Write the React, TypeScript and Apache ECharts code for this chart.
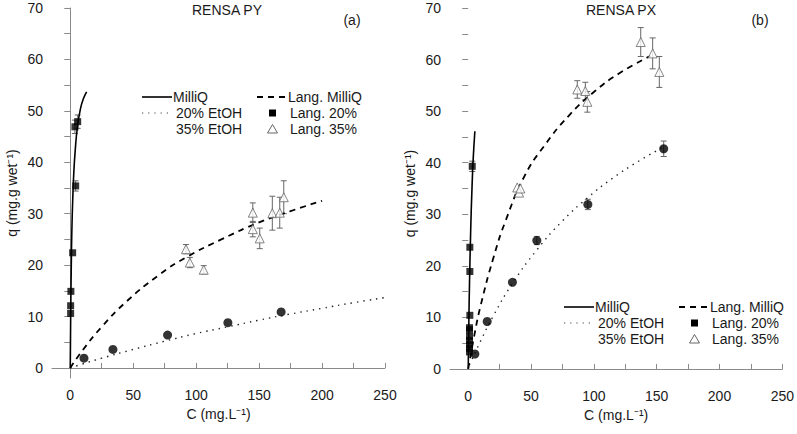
import React, { useEffect, useRef } from "react";
import * as echarts from "echarts";

// ---------- Panel (a) RENSA PY ----------
const aMilliQData: number[][] = [[0.3, 10.6, 0], [0.3, 12.1, 0], [0.5, 14.9, 0], [1.9, 22.4, 0], [4.3, 35.4, 1.0], [3.7, 46.9, 1.3], [5.9, 47.9, 1.3]];
const aEtoh20Data: number[][] = [[10.9, 1.9, 0], [33.9, 3.6, 0], [77.3, 6.4, 0], [125.2, 8.8, 0], [167.5, 10.9, 0]];
const aEtoh35Data: number[][] = [[91.9, 23.1, 0.9], [95, 20.5, 1.0], [106, 19.1, 0.8], [145, 30.2, 1.9], [145, 27.0, 1.5], [150.5, 25.2, 2.0], [160.5, 30.1, 3.3], [166.4, 30.2, 3.0], [169.6, 33.2, 3.2]];
const aMilliQFit: number[][] = [[0, 0], [0.25, 7.5], [0.5, 13.7], [0.8, 19.6], [1.2, 25.9], [2, 33], [2.9, 38.4], [4, 42.5], [5.6, 46.7], [8, 50.3], [10.5, 52.4], [13, 53.7]];
const aEtoh20Fit: number[][] = [[0, 0], [10, 0.8], [25, 1.9], [50, 3.6], [75, 5.2], [100, 6.7], [125, 8.0], [150, 9.3], [175, 10.5], [200, 11.6], [225, 12.7], [250, 13.7]];
const aEtoh35Fit: number[][] = [[0, 0], [10, 3.5], [25, 8.0], [45, 13.0], [70, 18.0], [92, 21.5], [120, 25.0], [150, 28.3], [175, 30.5], [200, 32.5]];

// ---------- Panel (b) RENSA PX ----------
const bMilliQData: number[][] = [[1, 3.3, 0], [1, 4.0, 0], [1, 4.7, 0], [1, 5.5, 0], [1, 6.3, 0], [1, 7.6, 0], [1, 8.0, 0], [1.3, 10.4, 0], [1.3, 18.9, 0], [1.3, 23.6, 0], [3.2, 39.3, 1.0]];
const bEtoh20Data: number[][] = [[5.3, 2.9, 0], [15.1, 9.2, 0], [35.2, 16.8, 0], [54.6, 24.9, 0.8], [95.2, 31.9, 1.0], [155.6, 42.7, 1.5]];
const bEtoh35Data: number[][] = [[39, 35.2, 0], [40.5, 34.2, 0], [41.5, 35.0, 0], [86.8, 54.2, 1.7], [93.2, 53.9, 1.7], [94.8, 51.8, 2.0], [137.3, 63.4, 2.8], [146.8, 61.2, 3.0], [152.1, 57.6, 3.0]];
const bMilliQFit: number[][] = [[0, 0], [0.5, 9.1], [1, 16.3], [2, 27.2], [3, 35.0], [4, 40.9], [5.3, 46.1]];
const bEtoh20Fit: number[][] = [[1, 0.8], [10, 5.5], [20, 10.3], [35, 16.5], [55, 23.2], [75, 28.7], [95, 33.2], [115, 37.0], [135, 40.2], [155, 43.0]];
const bEtoh35Fit: number[][] = [[0, 0], [5, 6.7], [10, 12.4], [20, 21.5], [30, 28.9], [45, 37.5], [60, 43.1], [80, 49.1], [100, 53.7], [120, 57.3], [145, 60.7]];

const xLabels = [0, 50, 100, 150, 200, 250];
const xTicks = [0, 25, 50, 75, 100, 125, 150, 175, 200, 225, 250];
const yLabels = [0, 10, 20, 30, 40, 50, 60, 70];
const yTicks = [0, 5, 10, 15, 20, 25, 30, 35, 40, 45, 50, 55, 60, 65, 70];
const titles = ["RENSA PY", "RENSA PX"];
const panelTags = ["(a)", "(b)"];
const legendCol1 = ["MilliQ", "20% EtOH", "35% EtOH"];
const legendCol2 = ["Lang. MilliQ", "Lang. 20%", "Lang. 35%"];

const FONT = "Liberation Sans, Arial, sans-serif";
const FS = 14;
const AXIS_COLOR = "#8a8a8a";
const TEXT_COLOR = "#1a1a1a";

function errorBarSeries(data: number[][], idx: number, color: string) {
  return {
    type: "custom",
    xAxisIndex: idx,
    yAxisIndex: idx,
    data: data.filter((d) => d[2] > 0),
    encode: { x: 0, y: 1 },
    z: 1,
    renderItem: (_params: any, api: any) => {
      const x = api.value(0);
      const y = api.value(1);
      const e = api.value(2);
      const top = api.coord([x, y + e]);
      const bot = api.coord([x, y - e]);
      const w = 3;
      const st = { stroke: color, lineWidth: 1 };
      return {
        type: "group",
        children: [
          { type: "line", shape: { x1: top[0], y1: top[1], x2: bot[0], y2: bot[1] }, style: st },
          { type: "line", shape: { x1: top[0] - w, y1: top[1], x2: top[0] + w, y2: top[1] }, style: st },
          { type: "line", shape: { x1: bot[0] - w, y1: bot[1], x2: bot[0] + w, y2: bot[1] }, style: st },
        ],
      };
    },
  };
}

function panelSeries(idx: number, milliData: number[][], e20Data: number[][], e35Data: number[][], milliFit: number[][], e20Fit: number[][], e35Fit: number[][]) {
  return [
    { type: "line", xAxisIndex: idx, yAxisIndex: idx, data: milliFit, smooth: true, showSymbol: false, symbol: "none", lineStyle: { color: "#000", width: 1.6, type: "solid" }, z: 3 },
    { type: "line", xAxisIndex: idx, yAxisIndex: idx, data: e20Fit, smooth: true, showSymbol: false, symbol: "none", lineStyle: { color: "#222", width: 1.4, type: [1.4, 5] }, z: 3 },
    { type: "line", xAxisIndex: idx, yAxisIndex: idx, data: e35Fit, smooth: true, showSymbol: false, symbol: "none", lineStyle: { color: "#000", width: 1.8, type: [6, 5] }, z: 3 },
    errorBarSeries(milliData, idx, "#666"),
    errorBarSeries(e20Data, idx, "#666"),
    errorBarSeries(e35Data, idx, "#666"),
    { type: "scatter", xAxisIndex: idx, yAxisIndex: idx, data: milliData.map((d) => [d[0], d[1]]), symbol: "rect", symbolSize: 7, itemStyle: { color: "#000" }, z: 4 },
    { type: "scatter", xAxisIndex: idx, yAxisIndex: idx, data: e20Data.map((d) => [d[0], d[1]]), symbol: "circle", symbolSize: 9, itemStyle: { color: "#000" }, z: 4 },
    { type: "scatter", xAxisIndex: idx, yAxisIndex: idx, data: e35Data.map((d) => [d[0], d[1]]), symbol: "triangle", symbolSize: 9, itemStyle: { color: "#fff", borderColor: "#666", borderWidth: 1 }, z: 5 },
  ];
}

function legendGraphics(x0: number, y0: number) {
  const els: any[] = [];
  const rows = [y0, y0 + 16, y0 + 32];
  const txt = (x: number, y: number, s: string) => ({
    type: "text", x, y, style: { text: s, fill: TEXT_COLOR, font: `${FS}px ${FONT}`, textVerticalAlign: "middle", textAlign: "left" },
  });
  // column 1
  els.push({ type: "line", shape: { x1: x0, y1: rows[0], x2: x0 + 30, y2: rows[0] }, style: { stroke: "#000", lineWidth: 1.6 } });
  els.push({ type: "line", shape: { x1: x0, y1: rows[1], x2: x0 + 30, y2: rows[1] }, style: { stroke: "#444", lineWidth: 1.2, lineDash: [1.2, 5] } });
  legendCol1.forEach((s, i) => els.push(txt(x0 + (i === 0 ? 31 : 34), rows[i], s)));
  // column 2
  const x1 = x0 + 115;
  els.push({ type: "line", shape: { x1: x1, y1: rows[0], x2: x1 + 30, y2: rows[0] }, style: { stroke: "#000", lineWidth: 1.8, lineDash: [6, 5] } });
  els.push({ type: "rect", shape: { x: x1 + 12, y: rows[1] - 3.5, width: 7, height: 7 }, style: { fill: "#000" } });
  els.push({ type: "polygon", shape: { points: [[x1 + 15.5, rows[2] - 4.5], [x1 + 20.5, rows[2] + 4], [x1 + 10.5, rows[2] + 4]] }, style: { fill: "#fff", stroke: "#666", lineWidth: 1 } });
  els.push(txt(x1 + 31, rows[0], legendCol2[0]));
  els.push(txt(x1 + 33, rows[1], legendCol2[1]));
  els.push(txt(x1 + 33, rows[2], legendCol2[2]));
  return els;
}

function xAxisCfg(idx: number) {
  return {
    type: "value",
    gridIndex: idx,
    min: -14.5,
    max: 250,
    name: "C (mg.L⁻¹)",
    nameLocation: "middle",
    nameGap: 28,
    nameTextStyle: { color: TEXT_COLOR, fontSize: FS, fontFamily: FONT },
    axisLine: { show: true, lineStyle: { color: AXIS_COLOR, width: 1 } },
    axisTick: { show: true, inside: true, length: 5, customValues: xTicks, lineStyle: { color: AXIS_COLOR } },
    axisLabel: { show: true, customValues: xLabels, margin: 10, color: TEXT_COLOR, fontSize: FS, fontFamily: FONT },
    splitLine: { show: false },
  };
}

function yAxisCfg(idx: number, showLine: boolean) {
  return {
    type: "value",
    gridIndex: idx,
    min: -1.95,
    max: 70,
    name: "q (mg.g wet⁻¹)",
    nameLocation: "middle",
    nameGap: 33,
    nameTextStyle: { color: TEXT_COLOR, fontSize: FS, fontFamily: FONT },
    axisLine: { show: showLine, lineStyle: { color: AXIS_COLOR, width: 1 } },
    axisTick: { show: true, inside: false, length: 6, customValues: yTicks, lineStyle: { color: AXIS_COLOR } },
    axisLabel: { show: true, customValues: yLabels, margin: 9, color: TEXT_COLOR, fontSize: FS, fontFamily: FONT },
    splitLine: { show: false },
  };
}

export default function App() {
  const ref = useRef<HTMLDivElement>(null);
  useEffect(() => {
    if (!ref.current) return;
    const chart = echarts.init(ref.current, undefined, { renderer: "svg" });
    const text = (x: number, y: number, s: string) => ({
      type: "text", x, y, style: { text: s, fill: TEXT_COLOR, font: `${FS}px ${FONT}`, textAlign: "center", textVerticalAlign: "middle" },
    });
    chart.setOption({
      animation: false,
      backgroundColor: "#fff",
      grid: [
        { left: 52, right: 412, top: 8, bottom: 56 },
        { left: 450, right: 14, top: 8, bottom: 55 },
      ],
      xAxis: [xAxisCfg(0), xAxisCfg(1)],
      yAxis: [yAxisCfg(0, true), yAxisCfg(1, false)],
      series: [
        ...panelSeries(0, aMilliQData, aEtoh20Data, aEtoh35Data, aMilliQFit, aEtoh20Fit, aEtoh35Fit),
        ...panelSeries(1, bMilliQData, bEtoh20Data, bEtoh35Data, bMilliQFit, bEtoh20Fit, bEtoh35Fit),
      ],
      graphic: [
        text(227, 10, titles[0]),
        text(352, 20, panelTags[0]),
        text(621, 10, titles[1]),
        text(760, 20, panelTags[1]),
        ...legendGraphics(142, 97),
        ...legendGraphics(564, 307),
      ],
    });
    return () => chart.dispose();
  }, []);
  return <div ref={ref} style={{ position: "fixed", left: 0, top: 0, width: 797, height: 434 }} />;
}
